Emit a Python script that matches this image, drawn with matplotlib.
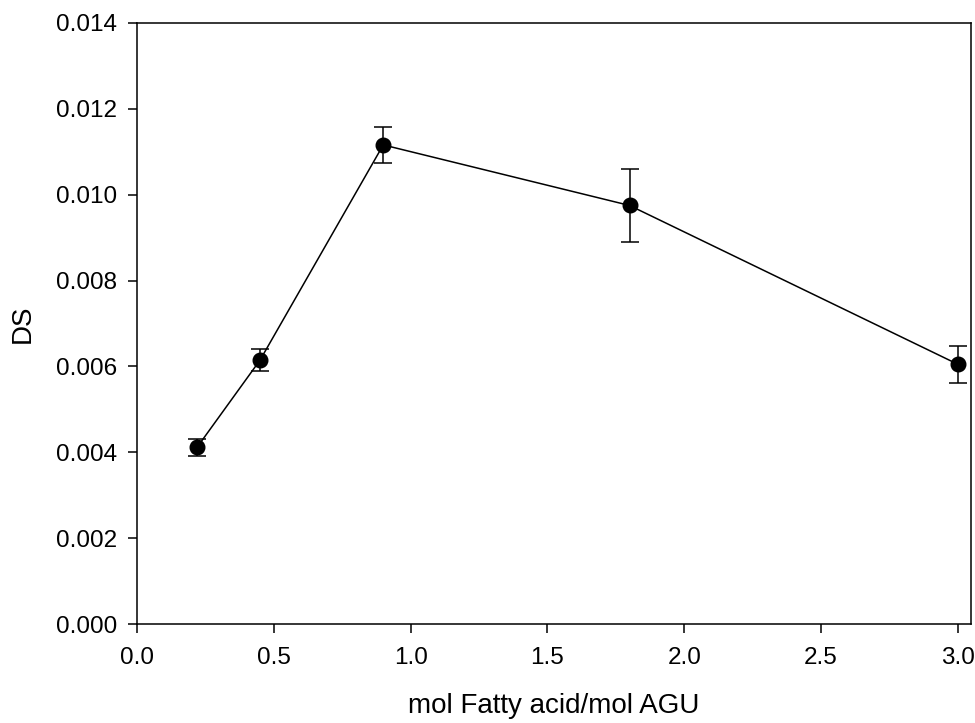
import numpy as np
import matplotlib.pyplot as plt

# ------------------------
# Data
# ------------------------
ratio = [0.22, 0.45, 0.90, 1.80, 3.00]
ds = [0.00412, 0.00615, 0.01116, 0.00975, 0.00605]
ds_err = [0.00020, 0.00025, 0.00042, 0.00086, 0.00043]

xticks = [0.0, 0.5, 1.0, 1.5, 2.0, 2.5, 3.0]
yticks = [0.000, 0.002, 0.004, 0.006, 0.008, 0.010, 0.012, 0.014]

plt.rcParams['font.family'] = ['Liberation Sans', 'DejaVu Sans']

fig = plt.figure(figsize=(9.75, 7.23), dpi=100)
ax = fig.add_axes([0.1405, 0.1369, 0.8554, 0.8313])

ax.errorbar(ratio, ds, yerr=ds_err, color='black', marker='o', markersize=10.5,
            linewidth=1.1, elinewidth=1.1, capsize=6.5, capthick=1.1)

ax.set_xlim(0, 3.048)
ax.set_ylim(0, 0.014)
ax.set_xticks(xticks)
ax.set_xticklabels(["%.1f" % t for t in xticks])
ax.set_yticks(yticks)
ax.set_yticklabels(["%.3f" % t for t in yticks])

ax.tick_params(direction='out', length=6.5, width=1.1, labelsize=17.5)
ax.tick_params(axis='x', pad=10)
ax.tick_params(axis='y', pad=8)
for s in ax.spines.values():
    s.set_linewidth(1.1)

ax.set_xlabel("mol Fatty acid/mol AGU", fontsize=20, labelpad=17)
ax.set_ylabel("DS", fontsize=20, labelpad=14)

fig.savefig("out.png", dpi=100)
